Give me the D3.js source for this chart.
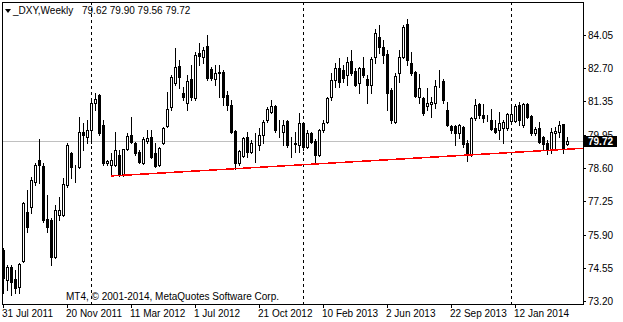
<!DOCTYPE html>
<html>
<head>
<meta charset="utf-8">
<script src="https://cdn.jsdelivr.net/npm/d3@7"></script>
<style>
  body { margin: 0; background: #fff; }
  text { font-family: "Liberation Sans", Arial, sans-serif; font-size: 10px; fill: #000; }
</style>
</head>
<body>
<svg id="chart"></svg>
<script>
const WIDTH = 623;
const HEIGHT = 322;

// weekly bars, 31 Jul 2011 .. last week
const open = [75.28,74.06,74.58,74.10,73.77,74.83,76.83,77.03,78.05,78.95,78.71,76.54,76.50,74.99,76.71,76.71,77.94,79.24,78.54,78.67,
  80.09,79.89,80.18,81.28,81.60,80.38,78.83,78.75,78.75,79.16,78.34,79.40,79.97,79.65,79.28,78.83,79.73,79.89,79.24,78.75,
  79.65,80.34,81.11,82.09,82.79,81.69,81.28,82.26,81.48,83.32,83.15,83.60,82.66,82.26,82.54,82.54,81.60,81.19,80.13,78.83,
  79.12,79.89,79.28,79.65,79.56,79.97,80.58,80.91,81.15,80.18,80.09,80.54,79.52,79.65,79.56,80.46,79.48,80.05,79.73,79.16,
  80.18,80.50,81.52,82.21,82.70,82.62,82.42,82.99,82.58,82.09,82.70,82.26,82.01,83.15,83.97,83.56,83.28,81.81,80.50,82.50,
  83.15,84.50,82.91,82.54,81.52,81.48,81.15,81.24,81.28,82.09,82.17,80.99,80.34,80.34,80.05,80.30,79.65,79.16,80.66,81.24,
  80.79,80.62,80.58,80.26,80.18,80.26,80.26,80.54,80.54,81.19,80.38,81.24,80.75,80.05,80.26,79.89,79.65,79.36,80.05,80.09,
  80.42,79.62];
const high = [75.36,74.67,74.67,74.46,74.75,77.24,77.73,78.26,78.83,79.81,78.83,77.53,76.58,77.12,77.44,78.22,79.65,79.28,78.75,80.71,
  80.46,80.58,81.40,81.69,81.65,80.58,78.95,79.24,80.09,79.36,79.42,80.05,80.71,79.69,79.36,79.89,80.18,80.18,79.65,79.48,
  80.30,81.73,82.42,83.52,83.03,81.93,82.42,82.83,83.36,83.72,83.56,84.05,82.75,82.83,82.83,82.62,81.77,81.40,80.18,79.36,
  79.89,80.09,79.77,80.05,80.26,80.58,81.11,81.40,81.19,80.58,80.58,80.58,79.89,80.09,80.87,80.48,80.18,80.09,79.81,80.22,
  80.58,81.52,82.50,82.91,83.11,82.83,83.15,83.44,82.70,82.75,83.15,82.42,83.15,84.30,84.46,83.85,83.44,81.89,82.50,83.44,
  84.46,84.70,83.36,82.58,82.46,81.52,81.89,81.52,82.21,82.62,82.26,81.32,80.38,80.38,80.42,80.34,79.77,80.71,81.44,81.28,
  81.24,80.79,81.03,80.58,80.91,80.58,80.87,81.19,81.24,81.32,81.28,81.28,80.79,80.30,80.50,79.93,79.77,80.26,80.30,80.54,
  80.44,79.90];
const low = [73.53,73.65,73.43,73.53,73.53,74.79,76.02,76.79,77.93,78.01,76.42,76.02,74.67,74.95,76.50,76.67,77.85,78.22,78.06,78.63,
  79.36,79.65,79.65,80.99,79.97,78.75,78.75,78.30,78.71,78.30,78.30,79.36,79.65,79.16,78.83,78.79,79.65,79.03,78.67,78.71,
  79.62,80.30,80.99,82.01,81.89,81.40,80.99,81.40,81.40,82.83,82.91,82.21,82.21,82.01,81.52,81.19,80.99,80.05,78.58,78.75,
  79.08,79.08,79.24,78.87,79.36,79.65,80.50,80.87,80.09,79.89,79.56,79.48,79.08,79.28,79.28,79.36,79.44,79.65,78.83,79.12,
  80.09,80.46,81.40,81.93,81.93,82.13,82.01,82.42,81.99,81.69,82.34,81.28,81.69,82.91,83.32,82.91,80.99,80.46,80.46,82.13,
  83.11,82.83,82.42,81.52,81.28,80.79,80.99,80.71,81.07,81.93,81.28,80.34,80.05,79.56,79.85,79.48,78.91,79.12,80.58,80.66,
  80.50,80.54,80.18,80.07,79.81,79.65,80.18,80.50,80.50,80.38,80.30,80.66,79.97,79.97,79.65,79.36,79.20,79.24,79.36,79.89,
  79.24,79.56];
const close = [74.14,74.59,73.98,73.73,74.71,77.20,76.22,78.14,78.75,78.75,76.50,76.22,74.99,76.91,76.91,77.98,79.57,78.67,78.54,80.09,
  79.97,80.18,81.28,81.44,80.05,78.83,78.91,78.95,79.36,78.34,79.40,79.93,79.69,79.24,78.87,79.81,79.85,79.08,78.71,79.44,
  80.26,81.03,82.34,82.75,82.34,81.52,82.17,81.52,83.24,83.20,83.44,82.30,82.30,82.50,82.50,81.52,81.19,80.09,78.83,79.32,
  79.85,79.28,79.65,79.65,79.97,80.50,81.03,81.15,80.18,80.18,80.38,79.56,79.52,79.60,80.46,79.48,80.05,79.69,79.16,80.18,
  80.46,81.48,82.21,82.70,82.13,82.30,82.95,82.50,82.01,82.70,82.42,82.01,83.07,84.13,83.56,83.24,81.69,80.58,82.38,83.15,
  84.38,83.03,82.50,81.56,81.89,80.87,81.28,81.32,81.97,82.09,81.40,80.38,80.18,80.05,80.38,79.60,79.16,80.66,81.19,80.79,
  80.66,80.62,80.22,80.09,80.46,80.50,80.83,80.83,81.15,80.58,81.24,80.71,80.05,80.22,79.69,79.60,79.36,80.09,80.13,80.38,
  79.44,79.72];

const dateLabels = [[0, "31 Jul 2011"], [16, "20 Nov 2011"], [32, "11 Mar 2012"], [48, "1 Jul 2012"], [64, "21 Oct 2012"],
  [80, "10 Feb 2013"], [96, "2 Jun 2013"], [112, "22 Sep 2013"], [128, "12 Jan 2014"]];
const priceLabels = ["73.20", "74.55", "75.90", "77.25", "78.60", "79.95", "81.35", "82.70", "84.05"];
const yearSeparators = [22, 75, 127]; // first bar of 2012, 2013, 2014
const trendPoints = [[27, 78.30], [141, 79.39]];
const lastPrice = 79.72;

const L = 2, T = 2, R = 583, B = 304;

const svg = d3.select("#chart")
  .attr("width", WIDTH)
  .attr("height", HEIGHT);

const x = d3.scaleLinear().domain([0, open.length - 1]).range([3, 3 + 4 * (open.length - 1)]);
const y = d3.scaleLinear().domain([73.20, 84.05]).range([301, 35]);

svg.append("defs").append("clipPath").attr("id", "plot")
  .append("rect").attr("x", L).attr("y", T).attr("width", R - L).attr("height", B - T);

const plot = svg.append("g").attr("clip-path", "url(#plot)").attr("shape-rendering", "crispEdges");

// current price line
const yLast = Math.round(y(lastPrice)) + 0.5;
plot.append("line")
  .attr("x1", L).attr("x2", R).attr("y1", yLast).attr("y2", yLast)
  .attr("stroke", "#c0c0c0");

// year separators
plot.selectAll(".sep").data(yearSeparators).join("line")
  .attr("x1", d => x(d) + 0.5).attr("x2", d => x(d) + 0.5)
  .attr("y1", T).attr("y2", B)
  .attr("stroke", "#000").attr("stroke-dasharray", "3,3");

const idx = d3.range(open.length);

plot.selectAll(".wick").data(idx).join("line")
  .attr("x1", i => x(i) + 0.5).attr("x2", i => x(i) + 0.5)
  .attr("y1", i => Math.round(y(high[i]))).attr("y2", i => Math.round(y(low[i])) + 1)
  .attr("stroke", "#000");

plot.selectAll(".body").data(idx).join("rect")
  .each(function (i) {
    const top = Math.round(y(Math.max(open[i], close[i])));
    const bot = Math.round(y(Math.min(open[i], close[i])));
    const el = d3.select(this);
    if (close[i] >= open[i]) {
      el.attr("x", x(i) - 0.5).attr("y", top + 0.5).attr("width", 2).attr("height", bot - top)
        .attr("fill", "#fff").attr("stroke", "#000");
    } else {
      el.attr("x", x(i) - 1).attr("y", top).attr("width", 3).attr("height", Math.max(bot - top + 1, 1))
        .attr("fill", "#000");
    }
  });

// trend line, extended to the right edge
const [p0, p1] = trendPoints;
const slope = (p1[1] - p0[1]) / (p1[0] - p0[0]);
const endIdx = x.invert(R);
plot.append("line")
  .attr("x1", x(p0[0])).attr("y1", y(p0[1]))
  .attr("x2", x(endIdx)).attr("y2", y(p0[1] + slope * (endIdx - p0[0])))
  .attr("stroke", "#ff0000").attr("stroke-width", 1.5);

// frame
svg.append("rect")
  .attr("x", L + 0.5).attr("y", T + 0.5).attr("width", R - L).attr("height", B - T)
  .attr("fill", "none").attr("stroke", "#000").attr("shape-rendering", "crispEdges");

// price axis
const step = (84.05 - 73.20) / (priceLabels.length - 1);
const gy = svg.append("g");
priceLabels.forEach((lab, k) => {
  const yy = Math.round(y(73.20 + k * step)) + 0.5;
  gy.append("line").attr("x1", R).attr("x2", R + 3).attr("y1", yy).attr("y2", yy)
    .attr("stroke", "#000").attr("shape-rendering", "crispEdges");
  gy.append("text").attr("x", 588).attr("y", yy).attr("dy", "0.35em").text(lab);
});

// last price box
svg.append("rect").attr("x", R + 1).attr("y", yLast - 5.5).attr("width", 33).attr("height", 11).attr("fill", "#000");
svg.append("text").attr("x", 588).attr("y", yLast).attr("dy", "0.36em")
  .style("fill", "#fff").style("font-weight", "bold").text(lastPrice.toFixed(2));

// time axis
const gx = svg.append("g");
dateLabels.forEach(([i, lab]) => {
  gx.append("line").attr("x1", x(i) + 0.5).attr("x2", x(i) + 0.5).attr("y1", B).attr("y2", B + 4)
    .attr("stroke", "#000").attr("shape-rendering", "crispEdges");
  gx.append("text").attr("x", x(i) - 1).attr("y", 317).text(lab);
});

// header
svg.append("path").attr("d", "M5,9 L11,9 L8,13 Z").attr("fill", "#000");
const n = open.length - 1;
svg.append("text").attr("x", 13).attr("y", 14).text("_DXY,Weekly");
svg.append("text").attr("x", 82).attr("y", 14)
  .text([open[n], high[n], low[n], close[n]].map(v => v.toFixed(2)).join(" "));

svg.append("text").attr("x", 66).attr("y", 300).text("MT4, © 2001-2014, MetaQuotes Software Corp.");
</script>
</body>
</html>
